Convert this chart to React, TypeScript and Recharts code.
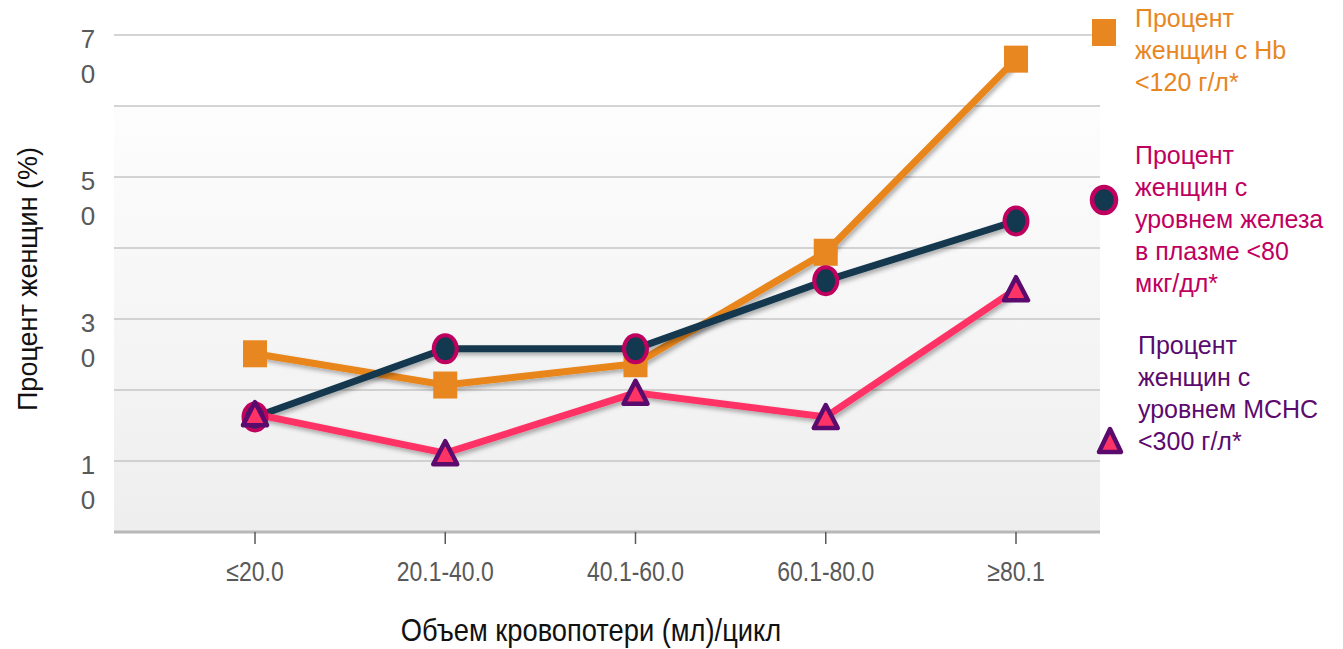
import React from 'react';
import { LineChart, Line, XAxis, YAxis, CartesianGrid, Legend, Label } from 'recharts';

const categories = ['≤20.0', '20.1-40.0', '40.1-60.0', '60.1-80.0', '≥80.1'];
const hbLow = [25.1, 20.7, 23.7, 39.4, 66.6];
const ironLow = [16.2, 25.8, 25.8, 35.4, 43.8];
const mchcLow = [16.6, 11.1, 19.6, 16.2, 34.2];
const yTicks = [0, 10, 20, 30, 40, 50, 60, 70];
const labeledTicks = [10, 30, 50, 70];

const hbName = 'Процент\nженщин с Hb\n<120 г/л*';
const ironName = 'Процент\nженщин с\nуровнем железа\nв плазме <80\nмкг/дл*';
const mchcName = 'Процент\nженщин с\nуровнем MCHC\n<300 г/л*';
const xTitle = 'Объем кровопотери (мл)/цикл';
const yTitle = 'Процент женщин (%)';

const ORANGE = '#E8861F';
const NAVY = '#12394F';
const MAGENTA = '#C0005F';
const PINK = '#FF3366';
const PURPLE = '#5B0A6E';
const GREY_TEXT = '#595959';
const FONT = '"Liberation Sans", Arial, sans-serif';

const data = categories.map((c, i) => ({
  cat: c,
  hb: hbLow[i],
  iron: ironLow[i],
  mchc: mchcLow[i],
}));

const SquareDot = (p: any) => {
  if (p.cx == null || p.cy == null) return <g key={p.index} />;
  return <rect key={p.index} x={p.cx - 12} y={p.cy - 13.5} width={24} height={27} fill={ORANGE} />;
};

const CircleDot = (p: any) => {
  if (p.cx == null || p.cy == null) return <g key={p.index} />;
  return (
    <ellipse key={p.index} cx={p.cx} cy={p.cy} rx={11.5} ry={13.5} fill={NAVY} stroke={MAGENTA} strokeWidth={4} />
  );
};

const TriangleDot = (p: any) => {
  if (p.cx == null || p.cy == null) return <g key={p.index} />;
  const { cx, cy } = p;
  const pts = `${cx},${cy - 12} ${cx + 12},${cy + 11} ${cx - 12},${cy + 11}`;
  return <polygon key={p.index} points={pts} fill={PINK} stroke={PURPLE} strokeWidth={4.5} strokeLinejoin="round" />;
};

const YTick = (p: any) => {
  const v = p.payload?.value;
  if (!labeledTicks.includes(v)) return <g />;
  const s = String(v);
  return (
    <text fill={GREY_TEXT} fontSize={26} fontFamily={FONT} textAnchor="middle">
      <tspan x={88} y={p.y + 12.5}>{s[0]}</tspan>
      <tspan x={88} y={p.y + 47.5}>{s[1]}</tspan>
    </text>
  );
};

const XTick = (p: any) => (
  <text
    transform={`translate(${p.x}, 581) scale(1, 1.2)`}
    fill={GREY_TEXT}
    fontSize={23}
    fontFamily={FONT}
    textAnchor="middle"
  >
    {p.payload?.value}
  </text>
);

const legendItems = [
  { name: hbName, color: ORANGE, top: 2, left: 47, icon: <rect x={4} y={19} width={24} height={27} fill={ORANGE} /> },
  {
    name: ironName,
    color: MAGENTA,
    top: 139,
    left: 47,
    icon: <ellipse cx={16} cy={200} rx={12} ry={13} fill={NAVY} stroke={MAGENTA} strokeWidth={4.5} />,
  },
  {
    name: mchcName,
    color: PURPLE,
    top: 329,
    left: 50,
    icon: (
      <polygon points="22,429 33,452 11,452" fill={PINK} stroke={PURPLE} strokeWidth={4.5} strokeLinejoin="round" />
    ),
  },
];

const renderLegend = () => (
  <div style={{ position: 'relative', width: 255, height: 470 }}>
    <svg width={255} height={470} style={{ position: 'absolute', left: 0, top: 0 }}>
      {legendItems.map((it, i) => (
        <g key={i}>{it.icon}</g>
      ))}
    </svg>
    {legendItems.map((it, i) => (
      <div
        key={i}
        style={{
          position: 'absolute',
          left: it.left,
          top: it.top,
          color: it.color,
          fontFamily: FONT,
          fontSize: 25,
          lineHeight: '32px',
          whiteSpace: 'pre',
        }}
      >
        {it.name}
      </div>
    ))}
  </div>
);

export default function App() {
  return (
    <div style={{ position: 'absolute', left: 0, top: 0, width: 1343, height: 649, background: '#fff' }}>
      <LineChart width={1343} height={649} data={data} margin={{ top: 35, right: 243, bottom: 0, left: 0 }}>
        <defs>
          <linearGradient id="plotBg" x1="0" y1="0" x2="0" y2="1">
            <stop offset="0%" stopColor="#ffffff" />
            <stop offset="14%" stopColor="#ffffff" />
            <stop offset="14.2%" stopColor="#fdfdfd" />
            <stop offset="100%" stopColor="#eeeeee" />
          </linearGradient>
          <filter id="lineShadow" x="-5%" y="-20%" width="110%" height="140%">
            <feDropShadow dx="2" dy="3" stdDeviation="2" floodColor="#000" floodOpacity="0.3" />
          </filter>
        </defs>
        <CartesianGrid vertical={false} stroke="#c6c6c6" strokeWidth={1.5} fill="url(#plotBg)" fillOpacity={1} />
        <XAxis
          dataKey="cat"
          height={117}
          padding={{ left: 141, right: 84 }}
          axisLine={{ stroke: '#b8b8b8', strokeWidth: 3 }}
          tickLine={{ stroke: GREY_TEXT, strokeWidth: 1.5 }}
          tickSize={12}
          tick={<XTick />}
          interval={0}
        >
          <Label
            content={() => (
              <text
                transform="translate(591, 641) scale(1, 1.12)"
                fill="#111"
                fontSize={27.3}
                fontFamily={FONT}
                textAnchor="middle"
              >
                {xTitle}
              </text>
            )}
          />
        </XAxis>
        <YAxis
          width={114}
          domain={[0, 70]}
          ticks={yTicks}
          interval={0}
          axisLine={false}
          tickLine={false}
          tick={<YTick />}
        >
          <Label
            content={() => (
              <text
                transform="translate(37, 279) rotate(-90)"
                fill="#111"
                fontSize={27}
                fontFamily={FONT}
                textAnchor="middle"
              >
                {yTitle}
              </text>
            )}
          />
        </YAxis>
        <Legend
          verticalAlign="middle"
          content={renderLegend}
          wrapperStyle={{ left: 1088, top: 0, width: 255, height: 470 }}
        />
        <Line
          type="linear"
          dataKey="hb"
          name={hbName}
          stroke={ORANGE}
          strokeWidth={7}
          dot={SquareDot}
          activeDot={false}
          filter="url(#lineShadow)"
          isAnimationActive={false}
        />
        <Line
          type="linear"
          dataKey="iron"
          name={ironName}
          stroke={NAVY}
          strokeWidth={7}
          dot={CircleDot}
          activeDot={false}
          filter="url(#lineShadow)"
          isAnimationActive={false}
        />
        <Line
          type="linear"
          dataKey="mchc"
          name={mchcName}
          stroke={PINK}
          strokeWidth={7}
          dot={TriangleDot}
          activeDot={false}
          filter="url(#lineShadow)"
          isAnimationActive={false}
        />
      </LineChart>
    </div>
  );
}
